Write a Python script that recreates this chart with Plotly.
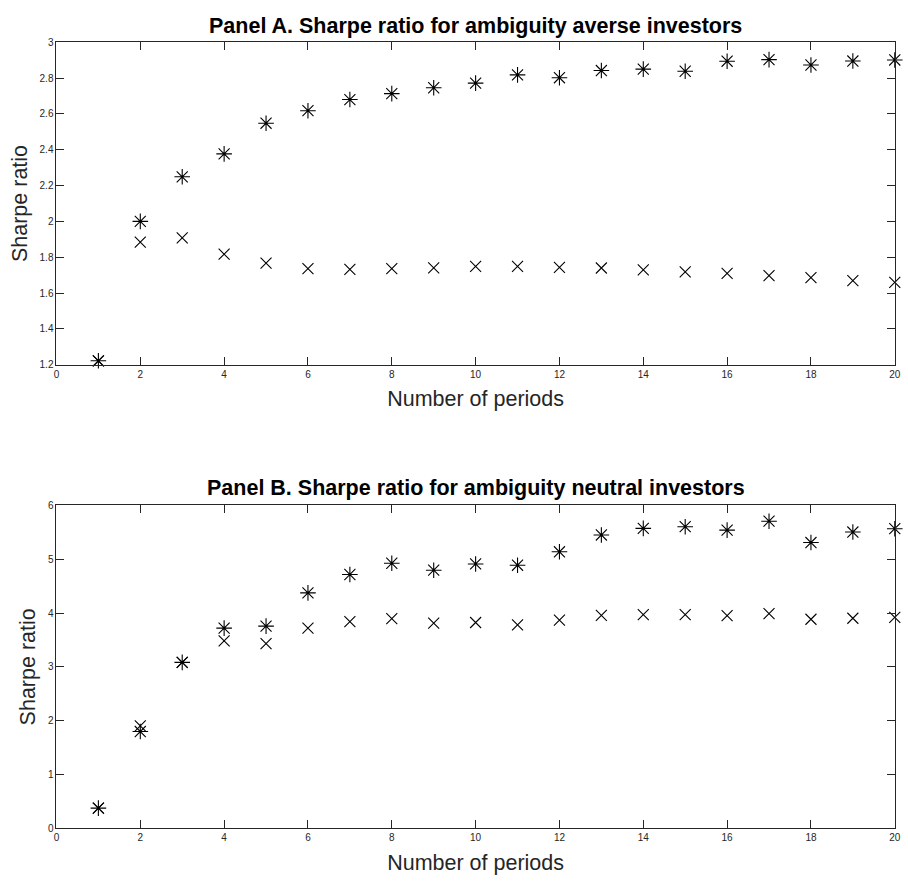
import plotly.graph_objects as go

periods = list(range(1, 21))

# Panel A: ambiguity averse investors
averse_star = [1.222, 2.000, 2.249, 2.377, 2.548, 2.618, 2.680, 2.713, 2.746, 2.772,
               2.818, 2.802, 2.842, 2.850, 2.838, 2.894, 2.903, 2.873, 2.895, 2.901]
averse_cross = [1.222, 1.885, 1.908, 1.817, 1.767, 1.736, 1.732, 1.736, 1.741, 1.749,
                1.749, 1.744, 1.740, 1.730, 1.718, 1.710, 1.697, 1.686, 1.670, 1.660]

# Panel B: ambiguity neutral investors
neutral_star = [0.374, 1.798, 3.083, 3.719, 3.756, 4.374, 4.716, 4.925, 4.796, 4.912,
                4.888, 5.138, 5.450, 5.572, 5.604, 5.541, 5.706, 5.310, 5.505, 5.567]
neutral_cross = [0.374, 1.903, 3.083, 3.481, 3.431, 3.719, 3.842, 3.897, 3.811, 3.824,
                 3.780, 3.866, 3.958, 3.970, 3.970, 3.952, 3.989, 3.884, 3.903, 3.921]

titles = ["Panel A. Sharpe ratio for ambiguity averse investors",
          "Panel B. Sharpe ratio for ambiguity neutral investors"]

W, H = 908, 882
AX = "#262626"
FONT = "Liberation Sans, Arial, sans-serif"
LABEL_SIZE = 21.5

star_marker = dict(symbol="asterisk-open", size=13, color="black",
                   line=dict(color="black", width=1.1))
cross_marker = dict(symbol="x-thin-open", size=11, color="black",
                    line=dict(color="black", width=1.1))

fig = go.Figure()

panels = [
    (averse_star, averse_cross, "x", "y"),
    (neutral_star, neutral_cross, "x2", "y2"),
]
for star, cross, xa, ya in panels:
    fig.add_trace(go.Scatter(x=periods, y=cross, mode="markers", marker=cross_marker,
                             xaxis=xa, yaxis=ya, cliponaxis=False, showlegend=False))
    fig.add_trace(go.Scatter(x=periods, y=star, mode="markers", marker=star_marker,
                             xaxis=xa, yaxis=ya, cliponaxis=False, showlegend=False))

x_dom = [54 / W, 900.7 / W]
yA = [1 - 364.3 / H, 1 - 37.7 / H]
yB = [1 - 833.7 / H, 1 - 506.7 / H]

common_x = dict(range=[0, 20], dtick=2, tick0=0, showgrid=False, zeroline=False,
                showline=True, linecolor=AX, linewidth=1, mirror="ticks",
                ticks="inside", ticklen=8, tickcolor=AX, tickwidth=1,
                tickfont=dict(family=FONT, size=10, color=AX),
                title=dict(text="Number of periods", standoff=12,
                           font=dict(family=FONT, size=LABEL_SIZE, color=AX)))
common_y = dict(showgrid=False, zeroline=False, showline=True, linecolor=AX,
                linewidth=1, mirror="ticks", ticks="inside", ticklen=8,
                tickcolor=AX, tickwidth=1,
                tickfont=dict(family=FONT, size=10, color=AX),
                title=dict(text="Sharpe ratio", standoff=6,
                           font=dict(family=FONT, size=LABEL_SIZE, color=AX)))

fig.update_layout(
    width=W, height=H,
    margin=dict(l=0, r=0, t=0, b=0),
    paper_bgcolor="white", plot_bgcolor="white",
    xaxis=dict(domain=x_dom, anchor="y", **common_x),
    yaxis=dict(domain=yA, anchor="x", range=[1.2, 3], dtick=0.2, tick0=1.2, **common_y),
    xaxis2=dict(domain=x_dom, anchor="y2", **common_x),
    yaxis2=dict(domain=yB, anchor="x2", range=[0, 6], dtick=1, tick0=0, **common_y),
)

title_y = [1 - 21.5 / H, 1 - 489.5 / H]
for t, ty in zip(titles, title_y):
    fig.add_annotation(text="<b>" + t + "</b>", x=(x_dom[0] + x_dom[1]) / 2, y=ty,
                       xref="paper", yref="paper", showarrow=False,
                       xanchor="center", yanchor="middle",
                       font=dict(family=FONT, size=LABEL_SIZE, color="black"))

fig.write_html("out.html")
